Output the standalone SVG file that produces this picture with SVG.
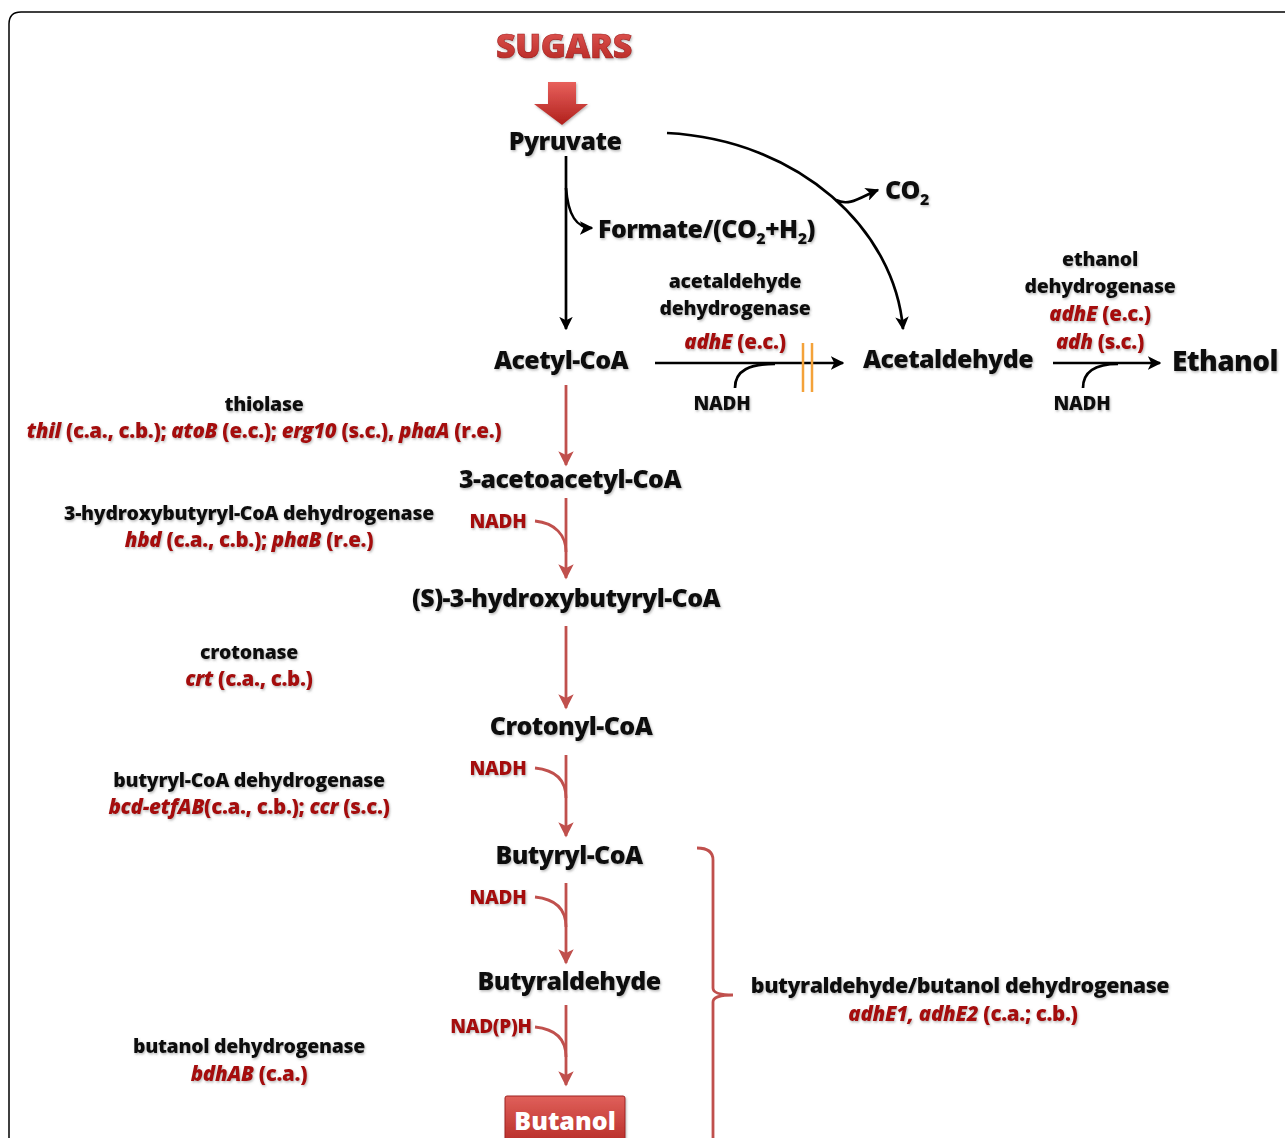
<svg xmlns="http://www.w3.org/2000/svg" width="1285" height="1138" viewBox="0 0 1285 1138">
<defs>
<style>
text{font-family:"Open Sans",Lato,"Liberation Sans",sans-serif;font-weight:800;text-anchor:middle}
.node{font-size:25px;fill:#111;letter-spacing:-0.6px}
.lab{font-size:19.5px;fill:#111;letter-spacing:-0.3px}
.big{font-size:21.5px;letter-spacing:-0.5px}
.gene{font-size:20.5px;fill:#a50f0f;letter-spacing:-0.3px}
.gene tspan.i{font-style:italic}
.nadh{font-size:19px;fill:#111;letter-spacing:-0.3px}
.rnadh{font-size:19px;fill:#a50f0f;letter-spacing:-0.3px}
.blk{fill:none;stroke:#000;stroke-width:2.7}
.red{fill:none;stroke:#c0504d;stroke-width:2.8}
</style>
<filter id="sh" x="-10%" y="-30%" width="120%" height="160%">
<feDropShadow dx="1" dy="1.5" stdDeviation="1" flood-color="#777" flood-opacity="0.5"/>
</filter>
<marker id="ab" viewBox="0 0 10 10" refX="9" refY="5" markerWidth="5" markerHeight="5" orient="auto" markerUnits="strokeWidth">
<path d="M0,0 L10,5 L0,10 L2.5,5 z" fill="#000"/>
</marker>
<marker id="ar" viewBox="0 0 10 10" refX="9" refY="5" markerWidth="5.5" markerHeight="5.5" orient="auto" markerUnits="strokeWidth">
<path d="M0,0 L10,5 L0,10 L2.5,5 z" fill="#c0504d"/>
</marker>
<linearGradient id="bg" x1="0" y1="0" x2="0" y2="1">
<stop offset="0" stop-color="#e0605a"/>
<stop offset="1" stop-color="#b52a26"/>
</linearGradient>
<linearGradient id="sg" x1="0" y1="0" x2="0" y2="1">
<stop offset="0" stop-color="#e8605c"/>
<stop offset="1" stop-color="#b0201c"/>
</linearGradient>
</defs>
<rect width="1285" height="1138" fill="#fff"/>
<path d="M9,1138 V24 Q9,12 21,12 H1285" fill="none" stroke="#000" stroke-width="1.5"/>

<g id="sugars" filter="url(#sh)">
<text x="564" y="58" style="font-size:34px;letter-spacing:-0.3px" fill="url(#sg)" stroke="#a01818" stroke-width="0.6">SUGARS</text>
<path d="M548,82 H576 V104 H588 L562,125 L534,104 H548 Z" fill="url(#sg)"/>
</g>

<g id="connectors">
<path class="blk" d="M566,156 V329" marker-end="url(#ab)"/>
<path class="blk" d="M566,188 C568,215 576,228 592,228" marker-end="url(#ab)"/>
<path class="blk" d="M667,133 C800,140 895,230 903,329" marker-end="url(#ab)"/>
<path class="blk" d="M836,200 C850,207 862,196 878,190" marker-end="url(#ab)"/>
<path class="blk" d="M655,363 H843" marker-end="url(#ab)"/>
<path class="blk" d="M735,388 C735,370 750,364 775,364"/>
<path d="M803,343 V392 M812,343 V392" stroke="#f4a23a" stroke-width="2.5"/>
<path class="blk" d="M1053,363 H1160" marker-end="url(#ab)"/>
<path class="blk" d="M1083,388 C1083,370 1098,364 1118,364"/>
<path class="red" d="M566,385 V465" marker-end="url(#ar)"/>
<path class="red" d="M566,498 V578" marker-end="url(#ar)"/>
<path class="red" d="M535,521 C555,523 566,535 566,552"/>
<path class="red" d="M566,626 V708" marker-end="url(#ar)"/>
<path class="red" d="M566,755 V836" marker-end="url(#ar)"/>
<path class="red" d="M535,768 C555,770 566,780 566,798"/>
<path class="red" d="M566,883 V963" marker-end="url(#ar)"/>
<path class="red" d="M535,897 C555,899 566,909 566,927"/>
<path class="red" d="M566,1005 V1085" marker-end="url(#ar)"/>
<path class="red" d="M535,1027 C555,1029 566,1039 566,1057"/>
<path class="red" d="M697,848 Q713,848 713,860 V988 Q713,995 733,995 Q713,995 713,1002 V1138"/>
</g>

<g id="pyruvate" filter="url(#sh)"><text class="node" x="565" y="150">Pyruvate</text></g>
<g id="formate" filter="url(#sh)"><text class="node" x="598" y="238" style="text-anchor:start">Formate/(CO<tspan dy="6" font-size="16">2</tspan><tspan dy="-6">+H</tspan><tspan dy="6" font-size="16">2</tspan><tspan dy="-6">)</tspan></text></g>
<g id="co2" filter="url(#sh)"><text class="node" x="885" y="199" style="text-anchor:start">CO<tspan dy="6" font-size="16">2</tspan></text></g>
<g id="acetylcoa" filter="url(#sh)"><text class="node" x="561" y="369">Acetyl-CoA</text></g>
<g id="acetaldehyde" filter="url(#sh)"><text class="node" x="948" y="368">Acetaldehyde</text></g>
<g id="ethanol" filter="url(#sh)"><text class="node" x="1172" y="371" style="text-anchor:start;font-size:28px">Ethanol</text></g>

<g id="ald-dh" filter="url(#sh)">
<text class="lab" x="735" y="288">acetaldehyde</text>
<text class="lab" x="735" y="315">dehydrogenase</text>
<text class="gene" x="735" y="349"><tspan class="i">adhE</tspan> (e.c.)</text>
<text class="nadh" x="722" y="410">NADH</text>
</g>
<g id="eth-dh" filter="url(#sh)">
<text class="lab" x="1100" y="266">ethanol</text>
<text class="lab" x="1100" y="293">dehydrogenase</text>
<text class="gene" x="1100" y="321"><tspan class="i">adhE</tspan> (e.c.)</text>
<text class="gene" x="1100" y="349"><tspan class="i">adh</tspan> (s.c.)</text>
<text class="nadh" x="1082" y="410">NADH</text>
</g>

<g id="thiolase" filter="url(#sh)">
<text class="lab" x="264" y="411">thiolase</text>
<text class="gene" x="264" y="438"><tspan class="i">thil</tspan> (c.a., c.b.); <tspan class="i">atoB</tspan> (e.c.); <tspan class="i">erg10</tspan> (s.c.), <tspan class="i">phaA</tspan> (r.e.)</text>
</g>
<g id="acetoacetyl" filter="url(#sh)"><text class="node" x="570" y="488">3-acetoacetyl-CoA</text></g>
<g id="hbd" filter="url(#sh)">
<text class="lab" x="249" y="520">3-hydroxybutyryl-CoA dehydrogenase</text>
<text class="gene" x="249" y="547"><tspan class="i">hbd</tspan> (c.a., c.b.); <tspan class="i">phaB</tspan> (r.e.)</text>
<text class="rnadh" x="498" y="528">NADH</text>
</g>
<g id="hydroxybutyryl" filter="url(#sh)"><text class="node" x="566" y="607">(S)-3-hydroxybutyryl-CoA</text></g>
<g id="crotonase" filter="url(#sh)">
<text class="lab" x="249" y="659">crotonase</text>
<text class="gene" x="249" y="686"><tspan class="i">crt</tspan> (c.a., c.b.)</text>
</g>
<g id="crotonyl" filter="url(#sh)"><text class="node" x="571" y="735">Crotonyl-CoA</text></g>
<g id="bcd" filter="url(#sh)">
<text class="lab" x="249" y="787">butyryl-CoA dehydrogenase</text>
<text class="gene" x="249" y="814"><tspan class="i">bcd-etfAB</tspan>(c.a., c.b.); <tspan class="i">ccr</tspan> (s.c.)</text>
<text class="rnadh" x="498" y="775">NADH</text>
</g>
<g id="butyryl" filter="url(#sh)"><text class="node" x="569" y="864">Butyryl-CoA</text>
<text class="rnadh" x="498" y="904">NADH</text></g>
<g id="butyraldehyde" filter="url(#sh)"><text class="node" x="569" y="990">Butyraldehyde</text>
<text class="rnadh" x="491" y="1033">NAD(P)H</text></g>
<g id="bdh" filter="url(#sh)">
<text class="lab" x="249" y="1053">butanol dehydrogenase</text>
<text class="gene" x="249" y="1081"><tspan class="i">bdhAB</tspan> (c.a.)</text>
</g>
<g id="adhE12" filter="url(#sh)">
<text class="lab big" x="960" y="993">butyraldehyde/butanol dehydrogenase</text>
<text class="gene" x="963" y="1021"><tspan class="i">adhE1, adhE2</tspan> (c.a.; c.b.)</text>
</g>
<g id="butanol">
<rect x="505" y="1096" width="120" height="50" rx="2" fill="url(#bg)" stroke="#a02020" stroke-width="1" filter="url(#sh)"/>
<text x="565" y="1130" style="font-size:25px" fill="#fff">Butanol</text>
</g>
</svg>
